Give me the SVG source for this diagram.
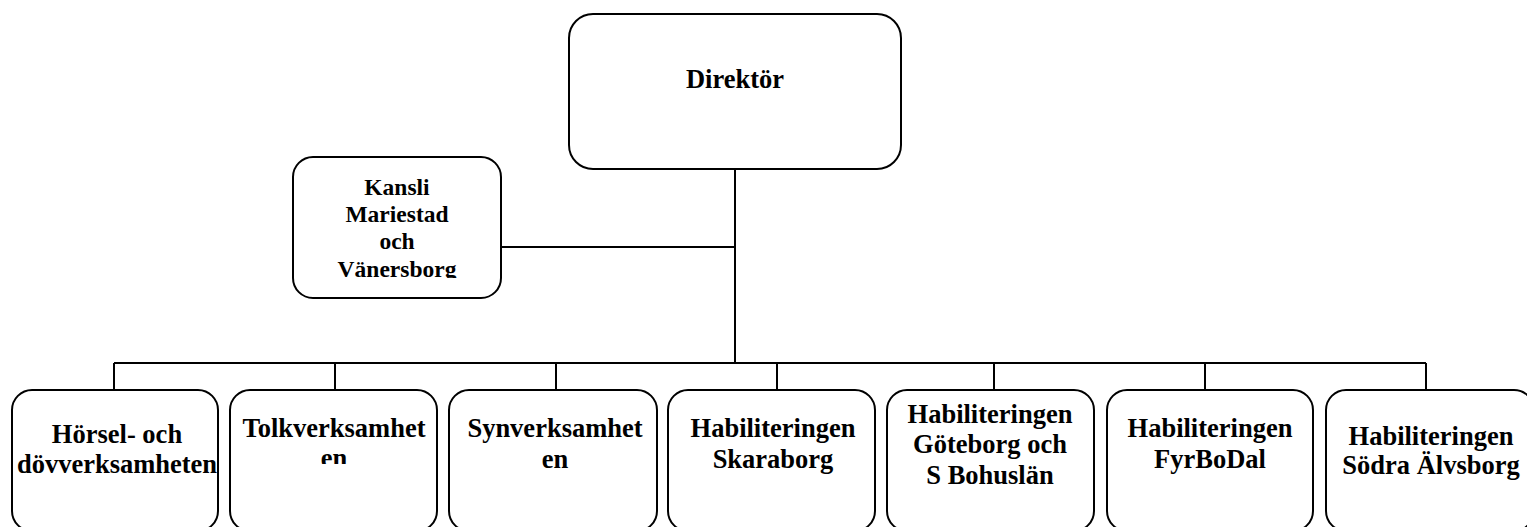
<svg xmlns="http://www.w3.org/2000/svg" width="1527" height="527" viewBox="0 0 1527 527">
<style>
.box{fill:#fff;stroke:#000;stroke-width:2}
.t{font-family:"Liberation Serif","Times New Roman",serif;font-weight:bold;font-size:26.5px;fill:#000;text-anchor:middle}
.k{font-size:23.5px}
.c{fill:none;stroke:#000;stroke-width:2}
</style>
<defs>
<clipPath id="clipK"><rect x="293" y="156" width="210" height="122"/></clipPath>
<clipPath id="clipT"><rect x="230" y="390" width="208" height="74"/></clipPath>
</defs>
<g id="connectors">
<path class="c" d="M735 169V363M501 247H735M114 363H1426M114 363V390M335 363V390M556 363V390M777 363V390M994 363V390M1205 363V390M1426 363V390"/>
</g>
<g id="n-direktor">
<rect class="box" x="569" y="14" width="332" height="155" rx="24"/>
<text class="t" x="735" y="88">Direktör</text>
</g>
<g id="n-kansli">
<rect class="box" x="293" y="157" width="208" height="141" rx="20"/>
<text class="t k" clip-path="url(#clipK)"><tspan x="397" y="195">Kansli</tspan><tspan x="397" y="222">Mariestad</tspan><tspan x="397" y="249">och</tspan><tspan x="397" y="277">Vänersborg</tspan></text>
</g>
<g id="n-horsel">
<rect class="box" x="12" y="390" width="206" height="141" rx="20"/>
<text class="t"><tspan x="117" y="443">Hörsel- och</tspan><tspan x="117" y="473">dövverksamheten</tspan></text>
</g>
<g id="n-tolk">
<rect class="box" x="230" y="390" width="207" height="141" rx="20"/>
<text class="t" clip-path="url(#clipT)"><tspan x="334" y="437">Tolkverksamhet</tspan><tspan x="334" y="467">en</tspan></text>
</g>
<g id="n-syn">
<rect class="box" x="449" y="390" width="208" height="141" rx="20"/>
<text class="t"><tspan x="555" y="437">Synverksamhet</tspan><tspan x="555" y="468">en</tspan></text>
</g>
<g id="n-skaraborg">
<rect class="box" x="668" y="390" width="207" height="141" rx="20"/>
<text class="t"><tspan x="773" y="437">Habiliteringen</tspan><tspan x="773" y="468">Skaraborg</tspan></text>
</g>
<g id="n-goteborg">
<rect class="box" x="887" y="390" width="207" height="141" rx="20"/>
<text class="t"><tspan x="990" y="423">Habiliteringen</tspan><tspan x="990" y="453">Göteborg och</tspan><tspan x="990" y="484">S Bohuslän</tspan></text>
</g>
<g id="n-fyrbodal">
<rect class="box" x="1107" y="390" width="206" height="141" rx="20"/>
<text class="t"><tspan x="1210" y="437">Habiliteringen</tspan><tspan x="1210" y="468">FyrBoDal</tspan></text>
</g>
<g id="n-alvsborg">
<rect class="box" x="1326" y="390" width="208" height="141" rx="20"/>
<text class="t"><tspan x="1431" y="445">Habiliteringen</tspan><tspan x="1431" y="474">Södra Älvsborg</tspan></text>
</g>
</svg>
